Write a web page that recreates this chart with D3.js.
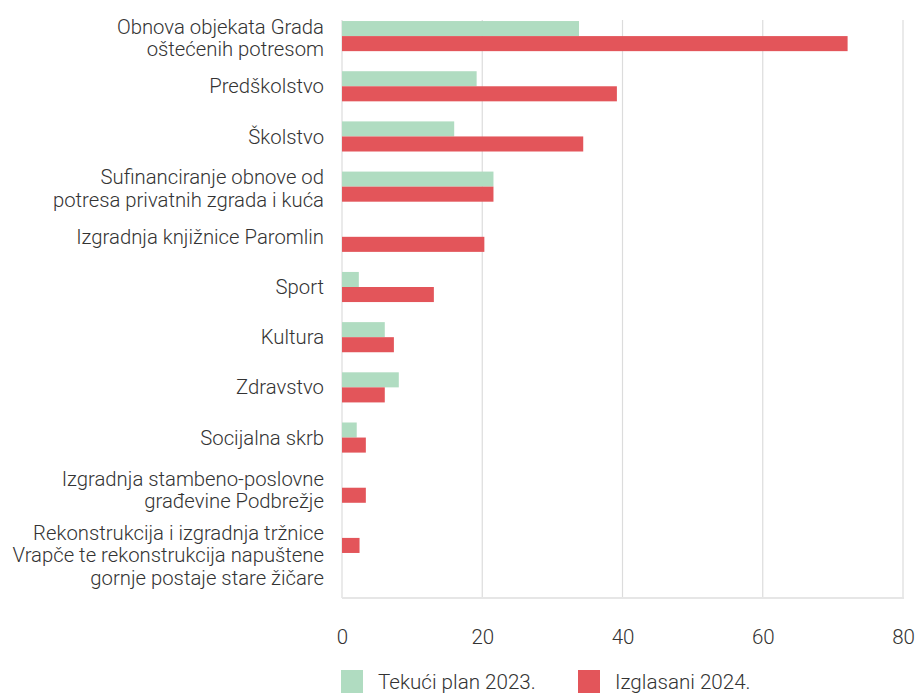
<!DOCTYPE html>
<html>
<head>
<meta charset="utf-8">
<script src="https://cdn.jsdelivr.net/npm/d3@7"></script>
<style>
  body { margin: 0; background: #fff; }
  svg text { font-family: Roboto, "Open Sans", sans-serif; font-weight: 300; fill: #333; }
</style>
</head>
<body>
<script>
// categories (multi-line labels split by \n)
var categories = [
    "Obnova objekata Grada\noštećenih potresom",
    "Predškolstvo",
    "Školstvo",
    "Sufinanciranje obnove od\npotresa privatnih zgrada i kuća",
    "Izgradnja knjižnice Paromlin",
    "Sport",
    "Kultura",
    "Zdravstvo",
    "Socijalna skrb",
    "Izgradnja stambeno-poslovne\ngrađevine Podbrežje",
    "Rekonstrukcija i izgradnja tržnice\nVrapče te rekonstrukcija napuštene\ngornje postaje stare žičare"
];

var seriesNames = ["Tekući plan 2023.", "Izglasani 2024."];
var plan2023 = [33.8, 19.2, 16.0, 21.6, null, 2.4, 6.1, 8.1, 2.1, null, null];
var izglasani2024 = [72.1, 39.2, 34.4, 21.6, 20.3, 13.1, 7.4, 6.1, 3.4, 3.4, 2.5];
var xTicks = [0, 20, 40, 60, 80];
var colours = ["#b0dcc1", "#e3555a"];

const width = 918;
const height = 693;
const left = 342, right = 903;
const plotTop = 20, plotBottom = 598;

const svg = d3.select('body')
    .append('svg')
    .attr('width', width)
    .attr('height', height);

const xScale = d3.scaleLinear()
    .domain([0, 80])
    .range([left, right]);

const yScale = d3.scaleBand()
    .domain(categories)
    .range([11, 563])
    .paddingInner(0.4)
    .paddingOuter(0.2);

const subScale = d3.scaleBand()
    .domain(seriesNames)
    .range([0, yScale.bandwidth()]);

// gridlines
svg.append('g')
    .selectAll('line')
    .data(xTicks)
    .enter()
    .append('line')
    .attr('x1', d => xScale(d))
    .attr('x2', d => xScale(d))
    .attr('y1', plotTop)
    .attr('y2', plotBottom)
    .attr('stroke', '#dcdcdc')
    .attr('stroke-width', 1.2);

// bottom axis line
svg.append('line')
    .attr('x1', left)
    .attr('x2', right + 1)
    .attr('y1', plotBottom)
    .attr('y2', plotBottom)
    .attr('stroke', '#e6e6e6')
    .attr('stroke-width', 2);

// x tick labels
const xAxis = svg.append('g')
    .attr('transform', `translate(0, ${plotBottom})`)
    .call(d3.axisBottom(xScale).tickValues(xTicks).tickSize(0).tickPadding(31));
xAxis.select('.domain').remove();
xAxis.selectAll('text')
    .style('font-size', '20.5px')
    .style('font-family', 'Roboto, sans-serif')
    .style('font-weight', 300)
    .attr('fill', '#333');

// bars
const rows = categories.map((c, i) => ({cat: c, values: [plan2023[i], izglasani2024[i]]}));

const groups = svg.append('g')
    .selectAll('g')
    .data(rows)
    .enter()
    .append('g')
    .attr('transform', d => `translate(0, ${yScale(d.cat)})`);

groups.selectAll('rect')
    .data(d => d.values.map((v, j) => ({name: seriesNames[j], value: v, idx: j})).filter(e => e.value != null))
    .enter()
    .append('rect')
    .attr('x', xScale(0))
    .attr('y', e => subScale(e.name))
    .attr('width', e => xScale(e.value) - xScale(0))
    .attr('height', subScale.bandwidth())
    .attr('fill', e => colours[e.idx]);

// category labels, pushed down if they'd collide with the one above
const lineH = 22.5;
var prevBottom = -Infinity;
categories.forEach(function (c) {
    var lines = c.split('\n');
    var h = lines.length * lineH;
    var centre = yScale(c) + yScale.bandwidth() / 2 + (lines.length > 1 ? 2 : 0);
    var top = centre - h / 2;
    if (top < prevBottom + 9) top = prevBottom + 9;
    prevBottom = top + h;
    var t = svg.append('text')
        .attr('text-anchor', 'end')
        .style('font-size', '20.3px');
    lines.forEach(function (ln, k) {
        t.append('tspan')
            .attr('x', 324)
            .attr('y', top + k * lineH + lineH / 2)
            .attr('dy', '0.35em')
            .text(ln);
    });
});

// legend
const legend = svg.append('g')
    .attr('transform', 'translate(341, 670)');
var legX = [0, 237];
seriesNames.forEach(function (name, i) {
    legend.append('rect')
        .attr('x', legX[i])
        .attr('y', 0)
        .attr('width', 22)
        .attr('height', 23)
        .attr('fill', colours[i]);
    legend.append('text')
        .attr('x', legX[i] + 37)
        .attr('y', 12)
        .attr('dy', '0.35em')
        .style('font-size', '20.6px')
        .text(name);
});
</script>
</body>
</html>
